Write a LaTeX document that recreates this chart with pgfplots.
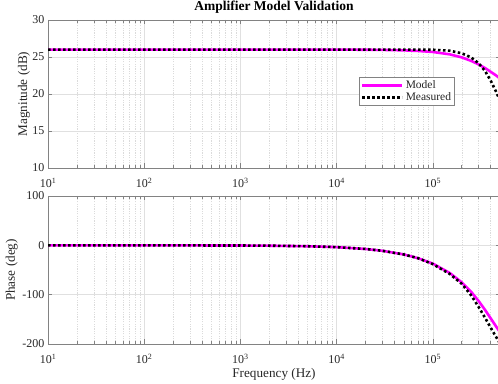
\documentclass[border=0pt]{standalone}
\usepackage{fontspec}
\setmainfont{Liberation Serif}
\usepackage{pgfplots}
\pgfplotsset{compat=1.18}
\definecolor{modelc}{RGB}{255,0,255}
\definecolor{axc}{RGB}{130,130,130}
\definecolor{txc}{RGB}{38,38,38}
\begin{document}
\begin{tikzpicture}
\begin{axis}[name=top,
    xmode=log, log basis x=10,
    scale only axis, width=452pt, height=148pt,
    xmin=10, xmax=5e5,
    xtick={10,100,1000,10000,100000},
    xticklabels={10\textsuperscript{1},10\textsuperscript{2},10\textsuperscript{3},10\textsuperscript{4},10\textsuperscript{5}},
    minor xtick={20,30,40,50,60,70,80,90,200,300,400,500,600,700,800,900,2000,3000,4000,5000,6000,7000,8000,9000,20000,30000,40000,50000,60000,70000,80000,90000,200000,300000,400000,500000},
    grid=both,
    major grid style={black!12, line width=0.5pt},
    minor grid style={black!14, line width=0.4pt, dash pattern=on 1.2pt off 1.2pt},
    axis line style={axc, line width=0.6pt},
    tick style={axc, line width=0.5pt},
    major tick length=4.5pt, minor tick length=3pt,
    tick align=inside,
    ticklabel style={font=\fontsize{12}{13}\selectfont, text=txc},
    xticklabel style={anchor=base, yshift=-20pt},
    label style={font=\fontsize{13.2}{15}\selectfont, text=txc},
    ylabel style={at={(axis description cs:-0.053,0.5)}, anchor=center},
  ymin=10, ymax=30, ytick={10,15,20,25,30},
  yticklabels={10,15,20,25,30},
  ylabel={Magnitude (dB)},
  title={\textbf{Amplifier Model Validation}},
  title style={font=\fontsize{13.5}{15}\selectfont, text=black, at={(axis description cs:0.5,1)}, anchor=base, yshift=3.5pt},
  legend style={at={(0.9,0.615)}, anchor=north east, draw=axc,
    font=\fontsize{11.5}{13}\selectfont, text=txc, inner sep=1.5pt, row sep=-1.5pt},
  legend cell align=left,
  legend image code/.code={\draw[#1] (0pt,0pt) -- (40pt,0pt);},
]
\addplot[modelc, line width=2.6pt] coordinates {
(10,26) (100,26) (1000,26) (10000,26) (20000,25.98) (30000,25.96) (50000,25.9)
(70000,25.82) (100000,25.68) (150000,25.36) (200000,24.95) (250000,24.48)
(300000,24.0) (350000,23.5) (400000,23.0) (450000,22.55) (500000,22.1)};
\addlegendentry{Model}
\addplot[black, line width=2.6pt, dash pattern=on 2.5pt off 2.5pt] coordinates {
(10,26) (100,26) (1000,26) (10000,26) (50000,26) (100000,25.98) (150000,25.85)
(200000,25.5) (250000,24.95) (300000,24.15) (350000,23.1) (400000,21.8)
(450000,20.45) (500000,19.1)};
\addlegendentry{Measured}
\end{axis}
\begin{axis}[name=bot, at={(top.south west)}, anchor=north west, yshift=-28pt,
    xmode=log, log basis x=10,
    scale only axis, width=452pt, height=148pt,
    xmin=10, xmax=5e5,
    xtick={10,100,1000,10000,100000},
    xticklabels={10\textsuperscript{1},10\textsuperscript{2},10\textsuperscript{3},10\textsuperscript{4},10\textsuperscript{5}},
    minor xtick={20,30,40,50,60,70,80,90,200,300,400,500,600,700,800,900,2000,3000,4000,5000,6000,7000,8000,9000,20000,30000,40000,50000,60000,70000,80000,90000,200000,300000,400000,500000},
    grid=both,
    major grid style={black!12, line width=0.5pt},
    minor grid style={black!14, line width=0.4pt, dash pattern=on 1.2pt off 1.2pt},
    axis line style={axc, line width=0.6pt},
    tick style={axc, line width=0.5pt},
    major tick length=4.5pt, minor tick length=3pt,
    tick align=inside,
    ticklabel style={font=\fontsize{12}{13}\selectfont, text=txc},
    xticklabel style={anchor=base, yshift=-20pt},
    label style={font=\fontsize{13.2}{15}\selectfont, text=txc},
    ylabel style={at={(axis description cs:-0.08,0.5)}, anchor=center},
    xlabel style={at={(axis description cs:0.5,0)}, anchor=base, yshift=-34pt},
  ymin=-200, ymax=100, ytick={-200,-100,0,100},
  yticklabels={-200,-100,0,100},
  ylabel={Phase (deg)}, xlabel={Frequency (Hz)},
]
\addplot[modelc, line width=2.6pt] coordinates {
(10,0) (100,-0.04) (1000,-0.37) (2000,-0.74) (5000,-1.85) (10000,-3.7)
(20000,-7.4) (30000,-11.1) (50000,-18.5) (70000,-26) (100000,-37)
(150000,-56) (200000,-75) (250000,-94) (300000,-113) (350000,-131)
(400000,-148) (450000,-163) (500000,-176)};
\addplot[black, line width=2.6pt, dash pattern=on 2.5pt off 2.5pt] coordinates {
(10,0) (100,-0.04) (1000,-0.37) (2000,-0.74) (5000,-1.85) (10000,-3.7)
(20000,-7.4) (30000,-11.1) (50000,-18.5) (70000,-26) (100000,-38)
(150000,-58) (200000,-78) (250000,-101) (300000,-125) (350000,-147)
(400000,-167) (450000,-184) (500000,-199)};
\end{axis}
\pgfresetboundingbox
\path[use as bounding box] ([xshift=-48pt,yshift=20pt]top.north west) rectangle ([xshift=450pt,yshift=-40pt]bot.south west);
\end{tikzpicture}
\end{document}
